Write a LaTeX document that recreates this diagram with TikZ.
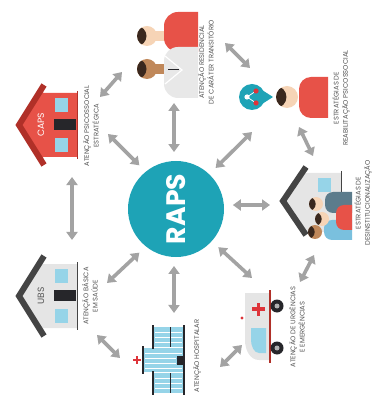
\documentclass[tikz,border=0pt]{standalone}
\usepackage{fontspec}
\setmainfont{Poppins}
\usetikzlibrary{arrows.meta}

\newlength{\pxl}
\setlength{\pxl}{0.025cm}

\definecolor{rapsteal}{RGB}{30,163,182}
\definecolor{capsred}{RGB}{231,82,72}
\definecolor{capsroof}{RGB}{176,48,40}
\definecolor{ubswall}{RGB}{229,229,229}
\definecolor{ubsroof}{RGB}{68,68,68}
\definecolor{glass}{RGB}{150,212,232}
\definecolor{doordark}{RGB}{38,38,42}
\definecolor{skin}{RGB}{246,212,182}
\definecolor{skindark}{RGB}{192,136,90}
\definecolor{hair}{RGB}{58,40,30}
\definecolor{linkgray}{RGB}{163,163,163}
\definecolor{capgray}{RGB}{85,85,85}
\definecolor{slate}{RGB}{92,124,140}
\definecolor{sky}{RGB}{122,192,222}
\definecolor{crossred}{RGB}{222,52,58}
\definecolor{coat}{RGB}{232,232,232}

\tikzset{
  link/.style={draw=linkgray, line width=0.09cm,
    {Triangle[length=0.2cm,width=0.275cm]}-{Triangle[length=0.2cm,width=0.275cm]}},
  caption/.style={rotate=90, align=center, text=capgray, inner sep=0pt,
    font=\fontsize{4.8}{6.6}\selectfont},
  % house lying on its side: roof apex at the origin, walls to the right
  pics/house/.style n args={4}{code={
    \fill[#1] (4,0) -- (30,-35) -- (30,-32) -- (64,-32) -- (64,32) -- (30,32) -- (30,35) -- cycle;
    \draw[#2, line width=6\pxl, line join=miter] (31,-40) -- (6,0) -- (31,40);
    \draw[#2, line width=1\pxl] (64,-34) -- (64,34);
    \fill[glass] (42,-27) rectangle (55,-13);
    \fill[glass] (42,13) rectangle (55,27);
    \fill[doordark] (41,-6) rectangle (63,5);
    \node[rotate=90, text=#3, font=\fontsize{6.5}{6.5}\selectfont] at (28,0) {#4};
  }},
  % head with the hair on the left
  pics/head/.style n args={2}{code={
    \fill[#2] (0,0) circle[radius=#1\pxl];
    \begin{scope}
      \clip (0,0) circle[radius=#1\pxl];
      \fill[hair] (-#1*1.05,0) circle[radius=#1\pxl];
    \end{scope}
  }}
}

\begin{document}
\begin{tikzpicture}[x=\pxl, y=-\pxl]
  \useasboundingbox (0,0) rectangle (374,398);

  % hub
  \node[circle, fill=rapsteal, minimum size=96\pxl, inner sep=0pt, outer sep=9\pxl] (raps) at (176,209) {};
  \node[rotate=90, text=white, font=\fontsize{19}{19}\selectfont\bfseries] (rapslbl) at (raps) {RAPS};

  % CAPS
  \pic at (13,125) {house={capsred}{capsroof}{white}{CAPS}};
  \node[caption] (capslbl) at (91,126) {ATENÇÃO PSICOSSOCIAL\\ESTRATÉGICA};

  % UBS
  \pic at (13,296) {house={ubswall}{ubsroof}{capgray}{UBS}};
  \node[caption] (ubslbl) at (90,296) {ATENÇÃO BÁSICA\\EM SAÚDE};

  % residential
  \fill[skin] (152,31) rectangle (168,41);
  \fill[skindark] (152,64) rectangle (168,74);
  \begin{scope}
    \clip (150,0) rectangle (198,110);
    \fill[capsred, rounded corners=14\pxl] (164,12) rectangle (230,52);
    \fill[coat, rounded corners=14\pxl] (164,47) rectangle (230,98);
  \end{scope}
  \draw[white, line width=1.2\pxl] (165,56) -- (182,70) -- (165,84);
  \draw[doordark, line width=1\pxl] (168,70) -- (179,70);
  \pic at (147,36) {head={10}{skin}};
  \pic at (147,69) {head={10}{skindark}};
  \node[caption] (residlbl) at (206,62) {ATENÇÃO RESIDENCIAL\\DE CARÁTER TRANSITÓRIO};

  % psychosocial rehabilitation
  \fill[rapsteal] (252,97) circle[radius=13\pxl];
  \fill[rapsteal] (262,90) -- (273,97) -- (262,104) -- cycle;
  \draw[white, line width=0.8\pxl] (247,97) -- (256,91) (247,97) -- (256,103);
  \fill[white] (247,97) circle[radius=2.6\pxl];
  \fill[crossred] (256,91) circle[radius=2.6\pxl] (256,103) circle[radius=2.6\pxl];
  \begin{scope}
    \clip (290,60) rectangle (328,130);
    \fill[capsred, rounded corners=12\pxl] (299,77) rectangle (350,118);
  \end{scope}
  \pic at (287,97) {head={11}{skin}};
  \node[caption] (rehablbl) at (341,98) {ESTRATÉGIAS DE\\REABILITAÇÃO PSICOSSOCIAL};

  % deinstitutionalisation
  \fill[ubswall] (282,201) -- (303,173) -- (341,173) -- (341,232) -- (303,232) -- cycle;
  \draw[ubsroof, line width=6\pxl, line join=miter] (306,167) -- (283,201) -- (306,235);
  \draw[ubsroof, line width=1\pxl] (341,171) -- (341,234);
  \fill[glass] (318,178) rectangle (331,192);
  \begin{scope}
    \clip (300,150) rectangle (352,260);
    \fill[slate, rounded corners=8\pxl] (325,192) rectangle (370,213);
    \fill[sky, rounded corners=8\pxl] (324,220) rectangle (370,240);
    \fill[capsred, rounded corners=8\pxl] (336,205) rectangle (370,230);
  \end{scope}
  \pic at (316,204) {head={7}{skin}};
  \pic at (315,232) {head={7}{skindark}};
  \pic at (322,219) {head={7}{skin}};
  \node[caption] (deinstlbl) at (363,203) {ESTRATÉGIAS DE\\DESINSTITUCIONALIZAÇÃO};

  % ambulance
  \fill[ubswall] (245,293) -- (271,293) -- (271,360) -- (259,360) .. controls (250,360) and (245,350) .. (245,340) -- cycle;
  \fill[glass] (251,328) -- (266,328) -- (266,353) -- (259,353) .. controls (254,353) and (251,346) .. (251,340) -- cycle;
  \draw[capsroof, line width=1.5\pxl] (270,290) -- (270,363);
  \fill[doordark] (277,306) circle[radius=6.5\pxl] (277,348) circle[radius=6.5\pxl];
  \fill[gray!60] (277,306) circle[radius=2.5\pxl] (277,348) circle[radius=2.5\pxl];
  \draw[crossred, line width=3.4\pxl] (252,309) -- (265,309) (258.5,303) -- (258.5,316);
  \fill[crossred] (242,318) circle[radius=1.6\pxl];
  \node[caption] (amblbl) at (297,327) {ATENÇÃO DE URGÊNCIAS\\E EMERGÊNCIAS};

  % hospital
  \fill[glass] (153,327) rectangle (183,347);
  \fill[glass] (143,348) rectangle (183,372);
  \fill[glass] (153,373) rectangle (183,393);
  \draw[white, line width=0.8\pxl] (155,332) -- (182,332) (155,337) -- (182,337) (155,342) -- (182,342)
    (145,353) -- (182,353) (145,358) -- (176,358) (145,363) -- (176,363) (145,368) -- (182,368)
    (155,378) -- (182,378) (155,383) -- (182,383) (155,388) -- (182,388);
  \draw[doordark, line width=1.6\pxl] (153,325) -- (153,349) (143,346) -- (143,374) (153,371) -- (153,395) (184,325) -- (184,395);
  \draw[doordark, line width=0.8\pxl] (170,327) -- (170,347) (170,373) -- (170,393);
  \fill[doordark] (177,356) rectangle (184,365);
  \draw[crossred, line width=2.2\pxl] (133,360) -- (141,360) (137,356) -- (137,364);
  \node[caption] (hosplbl) at (197,356) {ATENÇÃO HOSPITALAR};

  % arrow ends
  \coordinate (caps-ne) at (100,97);
  \coordinate (caps-se) at (108,134);
  \coordinate (caps-s) at (72,177);
  \coordinate (resid-sw) at (122,72);
  \coordinate (resid-s) at (174,103);
  \coordinate (resid-e) at (225,43);
  \coordinate (rehab-w) at (250,68);
  \coordinate (rehab-sw) at (252,132);
  \coordinate (rehab-se) at (299,127);
  \coordinate (deinst-n) at (313,156);
  \coordinate (deinst-w) at (270,205);
  \coordinate (deinst-s) at (314,255);
  \coordinate (amb-ne) at (300,282);
  \coordinate (amb-nw) at (252,278);
  \coordinate (amb-sw) at (242,345);
  \coordinate (hosp-ne) at (220,367);
  \coordinate (hosp-n) at (174,313);
  \coordinate (hosp-w) at (120,358);
  \coordinate (ubs-se) at (97,335);
  \coordinate (ubs-ne) at (107,283);
  \coordinate (ubs-n) at (72,240);

  % links
  \draw[link] (caps-ne) -- (resid-sw);
  \draw[link] (caps-se) -- (raps.130);
  \draw[link] (resid-s) -- (raps.92);
  \draw[link] (resid-e) -- (rehab-w);
  \draw[link] (raps.46) -- (rehab-sw);
  \draw[link] (rehab-se) -- (deinst-n);
  \draw[link] (raps.4) -- (deinst-w);
  \draw[link] (raps.-42) -- (amb-nw);
  \draw[link] (deinst-s) -- (amb-ne);
  \draw[link] (amb-sw) -- (hosp-ne);
  \draw[link] (raps.-92) -- (hosp-n);
  \draw[link] (ubs-se) -- (hosp-w);
  \draw[link] (ubs-ne) -- (raps.-130);
  \draw[link] (caps-s) -- (ubs-n);
\end{tikzpicture}
\end{document}
